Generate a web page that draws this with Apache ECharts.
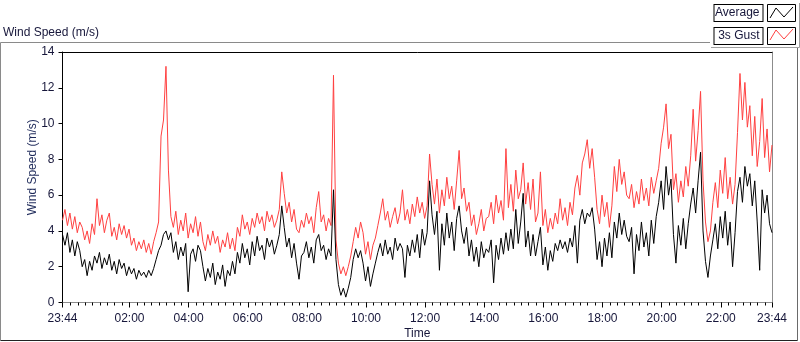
<!DOCTYPE html>
<html><head><meta charset="utf-8">
<script src="https://cdn.jsdelivr.net/npm/echarts@6/dist/echarts.min.js"></script>
<style>html,body{margin:0;padding:0;background:#fff}#c{width:800px;height:342px}</style>
</head><body><div id="c"></div>
<script>
// time axis in minutes relative to 00:00; chart starts at 23:44 of previous day
const START_MIN = -16;
const STEP_MIN = 5;
const END_MIN = 1424;
const seriesNames = ['Average', '3s Gust'];
const majorTickValues = [-16, 120, 240, 360, 480, 600, 720, 840, 960, 1080, 1200, 1320, 1424];
const yTicks = [0, 2, 4, 6, 8, 10, 12, 14];

const gustSpeed = [
4.6,5.2,4.3,5.0,4.1,4.8,3.9,4.5,4.2,3.5,4.0,3.3,4.4,3.8,5.8,4.3,4.9,3.9,4.6,5.0,3.7,4.2,3.5,4.4,3.8,4.3,3.6,4.1,
3.2,3.6,2.9,3.4,3.0,3.5,2.8,3.3,2.7,3.4,3.9,4.5,9.3,10.2,13.2,7.4,4.8,
4.2,5.1,3.8,4.6,4.0,5.0,3.6,4.4,3.9,4.8,3.7,4.5,
3.4,2.9,3.8,3.2,4.0,3.3,3.7,2.8,3.5,3.1,3.9,3.0,3.6,2.9,
4.2,3.7,4.9,4.1,4.5,3.8,4.7,4.2,5.0,4.4,4.8,4.0,5.1,
4.5,4.9,4.2,4.6,5.2,7.3,6.1,5.0,5.6,4.5,5.2,4.1,3.9,4.6,
4.2,5.0,4.4,4.8,3.9,5.3,6.2,4.5,4.9,4.0,4.7,4.3,12.7,3.5,2.2,1.6,2.0,
1.5,2.0,2.6,3.4,4.2,3.6,4.5,3.9,2.7,3.4,2.4,3.2,3.6,
4.3,5.0,5.8,4.6,5.1,4.2,4.8,5.3,4.4,5.0,6.3,
4.6,5.2,4.4,5.5,4.8,5.9,5.0,5.6,4.7,5.4,8.3,
6.6,5.5,6.9,5.0,6.3,5.4,7.0,5.8,6.5,5.2,6.8,8.5,
5.8,6.4,5.1,5.6,4.3,4.9,3.8,4.4,5.2,4.0,4.7,
4.8,5.6,4.4,6.0,5.0,5.7,4.6,8.6,
5.3,6.6,5.1,7.4,5.8,6.3,7.8,5.5,6.7,5.2,6.9,
4.5,5.0,7.3,4.3,5.2,3.9,4.7,4.1,
5.0,4.4,5.8,4.6,5.3,4.3,5.6,4.9,
6.4,7.1,6.0,7.8,8.3,9.1,7.5,8.6,7.0,
5.2,4.4,6.0,4.8,5.6,4.2,5.4,7.6,6.2,8.0,6.6,7.3,6.0,
5.8,6.6,5.3,6.2,5.5,6.9,5.7,6.4,5.4,7.0,6.1,6.8,
7.5,8.9,9.8,11.1,8.6,9.4,6.3,7.2,5.6,6.8,5.9,7.6,6.5,
8.2,10.8,7.9,9.6,11.8,6.8,4.5,3.4,4.0,
5.6,6.7,5.3,7.4,6.1,8.1,5.8,7.0,5.5,6.6,
9.5,12.8,10.2,12.3,9.8,11.0,8.2,10.4,7.6,9.0,11.4,8.1,9.7,7.3,8.8
];

const averageSpeed = [
3.8,3.2,3.9,2.8,3.5,2.6,3.4,2.9,2.0,2.4,1.5,2.3,1.8,2.6,2.2,2.8,1.9,2.5,2.1,2.7,1.8,2.3,1.6,2.4,1.9,2.2,1.5,2.0,
1.6,1.9,1.3,1.8,1.5,1.7,1.4,1.8,1.5,1.9,2.4,2.9,3.2,3.8,4.0,3.5,3.9,
2.8,3.4,2.4,3.1,2.6,3.3,0.6,2.7,3.0,2.3,3.2,2.9,
2.0,1.2,1.9,1.4,2.2,1.0,1.7,1.3,2.1,0.9,1.8,1.5,2.3,1.6,
2.8,2.2,3.3,2.5,3.0,2.1,3.4,2.6,3.7,2.9,3.2,2.4,3.6,
3.1,3.5,2.7,3.2,3.8,5.4,4.2,3.1,3.6,2.5,3.3,2.2,1.3,2.6,
2.8,3.4,2.5,3.1,2.2,3.5,3.8,2.9,3.2,2.4,3.0,2.6,6.3,2.4,1.0,0.4,0.8,
0.3,0.8,1.4,2.4,3.0,2.5,2.9,2.2,1.2,2.0,0.9,1.6,2.2,
2.8,3.3,2.6,3.5,2.7,3.1,2.4,3.6,2.9,3.3,3.0,
1.4,3.2,2.6,3.5,2.8,3.8,2.5,4.1,3.2,3.9,6.8,
4.9,3.8,5.1,1.8,4.4,3.2,5.0,3.6,4.5,2.9,4.7,5.4,
4.0,3.3,4.2,2.6,3.5,2.3,3.1,2.0,3.4,2.5,3.0,
2.8,3.5,1.1,3.2,2.4,3.6,2.7,3.9,
2.9,4.1,3.0,5.2,3.3,4.5,6.1,3.1,4.0,2.6,3.8,
2.6,3.4,4.2,2.1,3.1,1.8,2.9,2.3,
3.3,2.9,3.5,3.0,3.4,2.8,3.6,3.1,
4.3,2.2,4.6,5.2,4.4,5.0,4.8,5.3,4.1,
2.4,3.4,2.0,3.6,2.6,3.9,2.5,4.5,3.6,5.0,3.8,4.6,3.7,
3.4,4.2,1.6,3.8,2.9,4.5,3.1,3.9,2.6,4.6,3.3,4.8,
5.6,6.8,5.2,7.6,6.0,6.9,3.8,2.2,4.3,3.2,4.7,3.0,4.4,
5.5,6.4,5.0,6.8,8.4,4.0,2.3,1.4,2.6,
3.5,4.4,3.0,4.8,3.6,5.1,3.2,4.5,2.0,3.9,
6.2,7.0,5.6,7.6,6.5,7.2,5.4,6.8,4.5,1.8,6.3,5.0,6.0,4.4,3.9
];

function toPairs(arr) { return arr.map((v, i) => [START_MIN + STEP_MIN * i, v]); }
function fmtTime(v) {
  let m = ((Math.round(v) % 1440) + 1440) % 1440;
  const h = Math.floor(m / 60), mm = m % 60;
  return String(h).padStart(2, '0') + ':' + String(mm).padStart(2, '0');
}
const minorTickValues = [];
for (let t = 0; t <= END_MIN; t += 15) minorTickValues.push(t);

const FONT = 'Liberation Sans';
const TXT = '#16163a';

const chart = echarts.init(document.getElementById('c'), null, { renderer: 'canvas' });
chart.setOption({
  animation: false,
  backgroundColor: '#fff',
  textStyle: { fontFamily: FONT },
  title: {
    text: 'Wind Speed (m/s)', left: 3, top: 27, padding: 0,
    textStyle: { fontFamily: FONT, fontSize: 12, fontWeight: 'normal', color: TXT }
  },
  legend: {
    data: seriesNames,
    orient: 'vertical', right: 4, top: 4, padding: 0, itemGap: 5,
    align: 'right', itemWidth: 28, itemHeight: 17,
    icon: 'rect',
    itemStyle: { color: '#fff', borderColor: '#000', borderWidth: 1 },
    selectedMode: false,
    textStyle: {
      fontFamily: FONT, fontSize: 12, color: TXT, width: 42, lineHeight: 14,
      padding: [1, 3], borderColor: '#000', borderWidth: 1, backgroundColor: '#fff'
    }
  },
  grid: { left: 62.5, right: 28, top: 52, bottom: 39.5, containLabel: false, outerBoundsMode: 'none' },
  xAxis: [
    {
      type: 'value', position: 'bottom', min: START_MIN, max: END_MIN,
      name: 'Time', nameLocation: 'middle', nameGap: 25, nameMoveOverlap: false,
      nameTextStyle: { fontFamily: FONT, fontSize: 12, color: TXT },
      axisLine: { show: true, onZero: false, lineStyle: { color: '#8c8c8c', width: 1 } },
      axisTick: { show: true, customValues: majorTickValues, length: 5, inside: false, lineStyle: { color: '#000' } },
      axisLabel: { show: true, customValues: majorTickValues, formatter: fmtTime, margin: 10,
        fontFamily: FONT, fontSize: 12, color: TXT },
      splitLine: { show: false }
    },
    {
      type: 'value', position: 'bottom', min: START_MIN, max: END_MIN,
      axisLine: { show: false, onZero: false },
      axisTick: { show: true, customValues: minorTickValues, length: 3, lineStyle: { color: '#000' } },
      axisLabel: { show: false },
      splitLine: { show: false }
    },
    {
      type: 'value', position: 'top', min: START_MIN, max: END_MIN,
      axisLine: { show: true, onZero: false, lineStyle: { color: '#000', width: 1 } },
      axisTick: { show: false }, axisLabel: { show: false }, splitLine: { show: false }
    }
  ],
  yAxis: [
    {
      type: 'value', position: 'left', min: yTicks[0], max: yTicks[yTicks.length - 1], interval: 2,
      name: 'Wind Speed (m/s)', nameLocation: 'middle', nameGap: 24, nameRotate: 90, nameMoveOverlap: false,
      nameTextStyle: { fontFamily: FONT, fontSize: 12, color: '#1e2a5a', padding: [0, 0, 0, 20] },
      axisLine: { show: true, onZero: false, lineStyle: { color: '#000', width: 1 } },
      axisTick: { show: true, length: 4, lineStyle: { color: '#000' } },
      axisLabel: { fontFamily: FONT, fontSize: 12, color: TXT, margin: 8 },
      splitLine: { show: false }
    },
    {
      type: 'value', position: 'right', min: 0, max: 14,
      axisLine: { show: true, onZero: false, lineStyle: { color: '#8c8c8c', width: 1 } },
      axisTick: { show: false }, axisLabel: { show: false }, splitLine: { show: false }
    }
  ],
  series: [
    {
      name: seriesNames[1], type: 'line', xAxisIndex: 0, yAxisIndex: 0,
      data: toPairs(gustSpeed), showSymbol: false, symbol: 'none',
      lineStyle: { color: '#ff4040', width: 1 }, itemStyle: { color: '#ff4040' }, z: 2
    },
    {
      name: seriesNames[0], type: 'line', xAxisIndex: 0, yAxisIndex: 0,
      data: toPairs(averageSpeed), showSymbol: false, symbol: 'none',
      lineStyle: { color: '#000', width: 1 }, itemStyle: { color: '#000' }, z: 3
    }
  ],
  graphic: [
    { type: 'line', z: 0, shape: { x1: 0.5, y1: 42.5, x2: 797.5, y2: 42.5 }, style: { stroke: '#8a8a8a', lineWidth: 1 } },
    { type: 'line', z: 0, shape: { x1: 0.5, y1: 42.5, x2: 0.5, y2: 340.5 }, style: { stroke: '#8a8a8a', lineWidth: 1 } },
    { type: 'line', z: 0, shape: { x1: 797.5, y1: 42.5, x2: 797.5, y2: 340.5 }, style: { stroke: '#6a6a6a', lineWidth: 1 } },
    { type: 'line', z: 0, shape: { x1: 0.5, y1: 340.5, x2: 797.5, y2: 340.5 }, style: { stroke: '#222', lineWidth: 1 } },
    { type: 'rect', z: 1, shape: { x: 710, y: 0, width: 89, height: 47 }, style: { fill: '#fff' } },
    { type: 'polyline', z: 1, shape: { points: [[711, 47.5], [799.5, 47.5], [799.5, 3]] }, style: { stroke: '#a0a0a0', lineWidth: 1, fill: null } },
    { type: 'polyline', z: 100, shape: { points: [[770, 18], [776, 8], [784, 17], [793, 7]] }, style: { stroke: '#000', lineWidth: 1, fill: null } },
    { type: 'polyline', z: 100, shape: { points: [[770, 40], [776, 30], [784, 39], [793, 29]] }, style: { stroke: '#ff4040', lineWidth: 1, fill: null } }
  ]
});
</script>
</body></html>
